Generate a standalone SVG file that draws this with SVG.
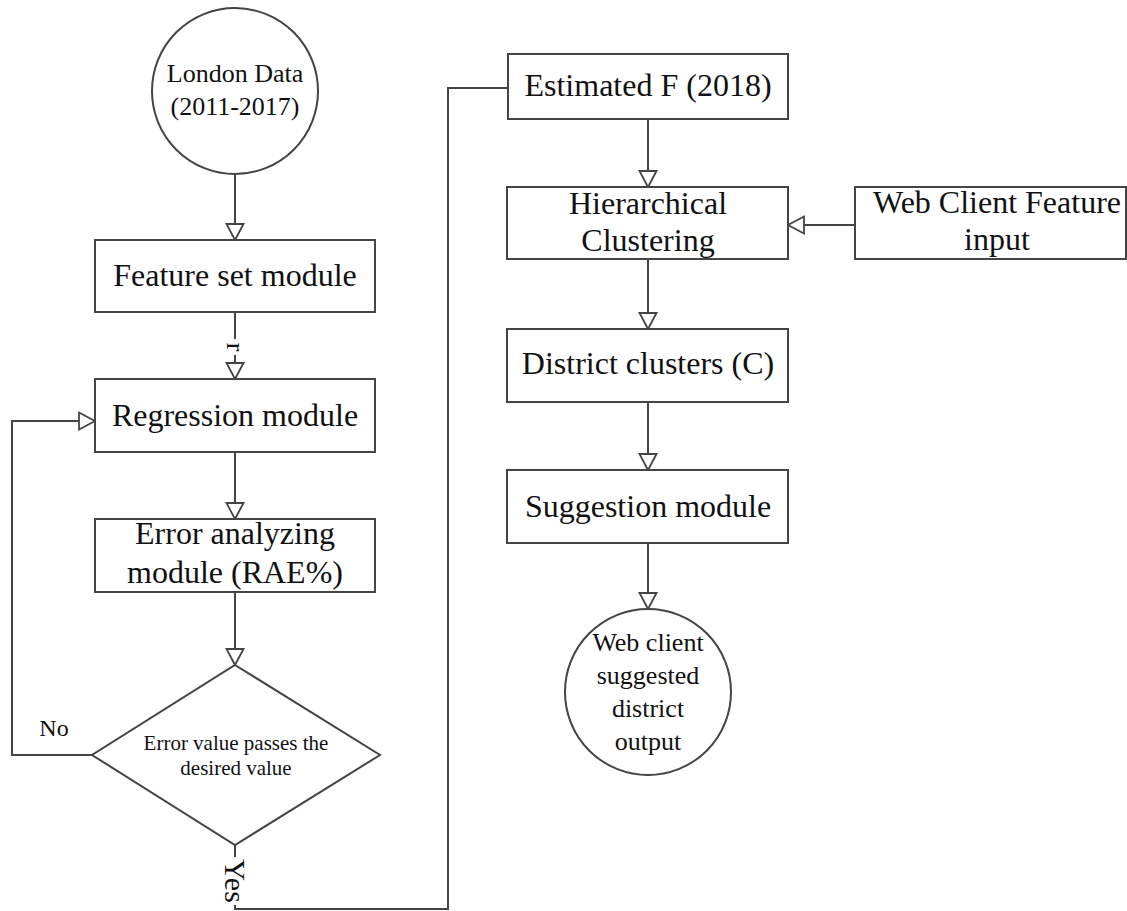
<svg xmlns="http://www.w3.org/2000/svg" width="1127" height="911" viewBox="0 0 1127 911">
<style>
.box{fill:#fff;stroke:#444;stroke-width:2}
.ln{fill:none;stroke:#444;stroke-width:2}
text{font-family:"Liberation Serif","Times New Roman",serif;fill:#111;text-anchor:middle}
.t32{font-size:32px}
.t26{font-size:26px}
.t21{font-size:21px}
.t24{font-size:24px}
</style>
<defs>
<marker id="arr" markerUnits="userSpaceOnUse" markerWidth="20" markerHeight="20" refX="16" refY="8.5" orient="auto" overflow="visible">
<path d="M0,0 L16,8.5 L0,17 Z" fill="#fff" stroke="#444" stroke-width="1.8"/>
</marker>
</defs>
<rect width="1127" height="911" fill="#fff"/>
<g id="connectors">
<line class="ln" x1="235" y1="174" x2="235" y2="240" marker-end="url(#arr)"/>
<line class="ln" x1="235" y1="312" x2="235" y2="379" marker-end="url(#arr)"/>
<line class="ln" x1="235" y1="452" x2="235" y2="519" marker-end="url(#arr)"/>
<line class="ln" x1="235" y1="592" x2="235" y2="665" marker-end="url(#arr)"/>
<polyline class="ln" points="92,755 12,755 12,421 95,421" marker-end="url(#arr)"/>
<polyline class="ln" points="235,845 235,909 448,909 448,88 508,88"/>
<line class="ln" x1="648" y1="119" x2="648" y2="187" marker-end="url(#arr)"/>
<line class="ln" x1="855" y1="225" x2="788" y2="225" marker-end="url(#arr)"/>
<line class="ln" x1="648" y1="259" x2="648" y2="329" marker-end="url(#arr)"/>
<line class="ln" x1="648" y1="402" x2="648" y2="470" marker-end="url(#arr)"/>
<line class="ln" x1="648" y1="543" x2="648" y2="609" marker-end="url(#arr)"/>
<rect x="226" y="339" width="18" height="16" fill="#fff"/>
<text class="t26" transform="translate(235,347) rotate(90)" dominant-baseline="central">r</text>
<rect x="224" y="857" width="22" height="48" fill="#fff"/>
<text class="t26" transform="translate(235,881) rotate(90)" dominant-baseline="central" style="font-size:30px">Yes</text>
<text class="t24" x="54" y="736">No</text>
</g>
<g id="london-data">
<circle class="box" cx="235" cy="91" r="83"/>
<text class="t26" x="235" y="82">London Data</text>
<text class="t26" x="235" y="115">(2011-2017)</text>
</g>
<g id="feature-set">
<rect class="box" x="95" y="240" width="280" height="72"/>
<text class="t32" x="235" y="286">Feature set module</text>
</g>
<g id="regression">
<rect class="box" x="95" y="379" width="280" height="73"/>
<text class="t32" x="235" y="426">Regression module</text>
</g>
<g id="error-analyzing">
<rect class="box" x="95" y="519" width="280" height="73"/>
<text class="t32" x="235" y="544">Error analyzing</text>
<text class="t32" x="235" y="583">module (RAE%)</text>
</g>
<g id="decision">
<polygon class="box" points="235,665 380,755 235,845 92,755"/>
<text class="t21" x="236" y="750">Error value passes the</text>
<text class="t21" x="236" y="775">desired value</text>
</g>
<g id="estimated">
<rect class="box" x="508" y="54" width="280" height="65"/>
<text class="t32" x="648" y="96">Estimated F (2018)</text>
</g>
<g id="hierarchical">
<rect class="box" x="507" y="187" width="281" height="72"/>
<text class="t32" x="648" y="214">Hierarchical</text>
<text class="t32" x="648" y="251">Clustering</text>
</g>
<g id="web-feature-input">
<rect class="box" x="855" y="187" width="271" height="72"/>
<text class="t32" x="997" y="213">Web Client Feature</text>
<text class="t32" x="997" y="250">input</text>
</g>
<g id="district-clusters">
<rect class="box" x="507" y="329" width="281" height="73"/>
<text class="t32" x="648" y="374">District clusters (C)</text>
</g>
<g id="suggestion">
<rect class="box" x="507" y="470" width="281" height="73"/>
<text class="t32" x="648" y="517">Suggestion module</text>
</g>
<g id="web-output">
<circle class="box" cx="648" cy="692" r="83"/>
<text class="t26" x="648" y="651">Web client</text>
<text class="t26" x="648" y="684">suggested</text>
<text class="t26" x="648" y="717">district</text>
<text class="t26" x="648" y="750">output</text>
</g>
</svg>
